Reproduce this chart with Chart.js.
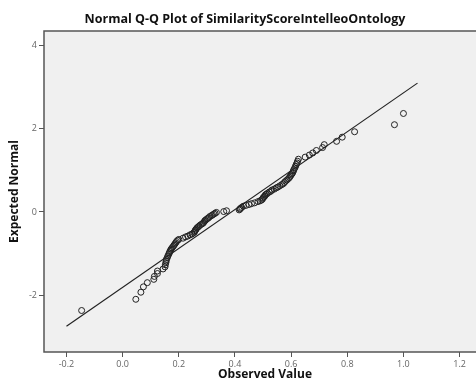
<!DOCTYPE html>
<html>
<head>
<meta charset="utf-8">
<script src="https://cdn.jsdelivr.net/npm/chart.js@4"></script>
<style>
  html, body { margin: 0; padding: 0; background: #fff; overflow: hidden; }
  canvas { display: block; }
</style>
</head>
<body>
<canvas id="qqChart" width="490" height="385"></canvas>
<script>
const observed = [
  -0.146, 0.047, 0.065, 0.074, 0.088, 0.111, 0.113, 0.124, 0.124, 0.144,
  0.151, 0.152, 0.154, 0.155, 0.156, 0.159, 0.161, 0.164, 0.166, 0.168,
  0.171, 0.173, 0.176, 0.180, 0.183, 0.186, 0.189, 0.192, 0.196, 0.200,
  0.215, 0.224, 0.232, 0.240, 0.247, 0.253, 0.256, 0.258, 0.260, 0.262,
  0.265, 0.269, 0.272, 0.277, 0.282, 0.286, 0.289, 0.292, 0.294, 0.298,
  0.302, 0.306, 0.310, 0.316, 0.320, 0.325, 0.329, 0.334, 0.360, 0.370,
  0.415, 0.418, 0.420, 0.424, 0.430, 0.440, 0.450, 0.459, 0.470, 0.482,
  0.490, 0.495, 0.498, 0.500, 0.503, 0.506, 0.508, 0.512, 0.516, 0.522,
  0.528, 0.532, 0.540, 0.547, 0.553, 0.560, 0.567, 0.572, 0.576, 0.580,
  0.585, 0.590, 0.594, 0.597, 0.600, 0.603, 0.606, 0.608, 0.610, 0.613,
  0.616, 0.618, 0.621, 0.623, 0.626, 0.650, 0.665, 0.677, 0.690, 0.712,
  0.718, 0.762, 0.782, 0.826, 0.968, 1.000
];
const expected = [
  -2.37, -2.10, -1.93, -1.80, -1.70, -1.62, -1.55, -1.48, -1.42, -1.37,
  -1.32, -1.27, -1.22, -1.18, -1.14, -1.10, -1.06, -1.02, -0.99, -0.95,
  -0.92, -0.89, -0.86, -0.83, -0.80, -0.77, -0.74, -0.71, -0.68, -0.66,
  -0.63, -0.60, -0.58, -0.55, -0.53, -0.50, -0.48, -0.45, -0.43, -0.41,
  -0.38, -0.36, -0.34, -0.31, -0.29, -0.27, -0.25, -0.22, -0.20, -0.18,
  -0.16, -0.14, -0.11, -0.09, -0.07, -0.05, -0.03, -0.01, 0.01, 0.03,
  0.05, 0.07, 0.09, 0.11, 0.14, 0.16, 0.18, 0.20, 0.22, 0.25,
  0.27, 0.29, 0.31, 0.34, 0.36, 0.38, 0.41, 0.43, 0.45, 0.48,
  0.50, 0.53, 0.55, 0.58, 0.60, 0.63, 0.66, 0.68, 0.71, 0.74,
  0.77, 0.80, 0.83, 0.86, 0.89, 0.92, 0.95, 0.99, 1.02, 1.06,
  1.10, 1.14, 1.18, 1.22, 1.27, 1.32, 1.37, 1.42, 1.48, 1.55,
  1.62, 1.70, 1.80, 1.93, 2.10, 2.37
];

// Reference line end points
const lineX = [-0.2, 1.05];
const lineY = [-2.75, 3.10];

const xTicks = [-0.2, 0.0, 0.2, 0.4, 0.6, 0.8, 1.0, 1.2];
const yTicks = [-2, 0, 2, 4];

const fontFamily = "'Open Sans', 'DejaVu Sans', sans-serif";

// light grey plot background plus frame
const plotFrame = {
  id: "plotFrame",
  beforeDatasetsDraw(chart) {
    const { ctx, chartArea: a } = chart;
    ctx.save();
    ctx.fillStyle = "#f0f0f0";
    ctx.fillRect(a.left, a.top, a.right - a.left, a.bottom - a.top);
    ctx.strokeStyle = "#555";
    ctx.lineWidth = 1.5;
    ctx.strokeRect(a.left, a.top, a.right - a.left, a.bottom - a.top);
    ctx.restore();
  }
};

const ctx = document.getElementById("qqChart").getContext("2d");
new Chart(ctx, {
  data: {
    datasets: [
      {
        type: "scatter",
        data: observed.map((x, i) => ({ x: x, y: expected[i] })),
        pointRadius: 3,
        pointHoverRadius: 3,
        borderWidth: 1,
        borderColor: "#222",
        backgroundColor: "rgba(0,0,0,0)",
        order: 2
      },
      {
        type: "line",
        data: lineX.map((x, i) => ({ x: x, y: lineY[i] })),
        borderColor: "#222",
        borderWidth: 1.2,
        pointRadius: 0,
        fill: false,
        order: 1
      }
    ]
  },
  options: {
    responsive: false,
    animation: false,
    devicePixelRatio: 1,
    layout: { padding: 0 },
    plugins: {
      legend: { display: false },
      tooltip: { enabled: false },
      title: {
        display: true,
        text: "Normal Q-Q Plot of SimilarityScoreIntelleoOntology",
        color: "#111",
        font: { family: fontFamily, size: 12.5, weight: "bold" },
        padding: { top: 12, bottom: 4 }
      }
    },
    scales: {
      x: {
        type: "linear",
        min: -0.28,
        max: 1.294,
        afterFit: s => { s.height = 33; },
        afterBuildTicks: s => { s.ticks = xTicks.map(v => ({ value: v })); },
        grid: { drawOnChartArea: false, drawTicks: true, tickLength: 5, color: "#555" },
        border: { display: false },
        ticks: {
          padding: 2,
          color: "#666",
          font: { family: fontFamily, size: 9 },
          callback: v => v.toFixed(1)
        },
        title: {
          display: true,
          text: "Observed Value",
          color: "#111",
          font: { family: fontFamily, size: 12, weight: "bold" },
          padding: { top: 0, bottom: 3 }
        }
      },
      y: {
        type: "linear",
        min: -3.368,
        max: 4.354,
        afterFit: s => { s.width = 44; },
        afterBuildTicks: s => { s.ticks = yTicks.map(v => ({ value: v })); },
        grid: { drawOnChartArea: false, drawTicks: true, tickLength: 5, color: "#555" },
        border: { display: false },
        ticks: {
          padding: 2,
          color: "#666",
          font: { family: fontFamily, size: 9 },
          callback: v => String(v)
        },
        title: {
          display: true,
          text: "Expected Normal",
          color: "#111",
          font: { family: fontFamily, size: 12, weight: "bold" },
          padding: { top: 7, bottom: 0 }
        }
      }
    }
  },
  plugins: [plotFrame]
});
</script>
</body>
</html>
